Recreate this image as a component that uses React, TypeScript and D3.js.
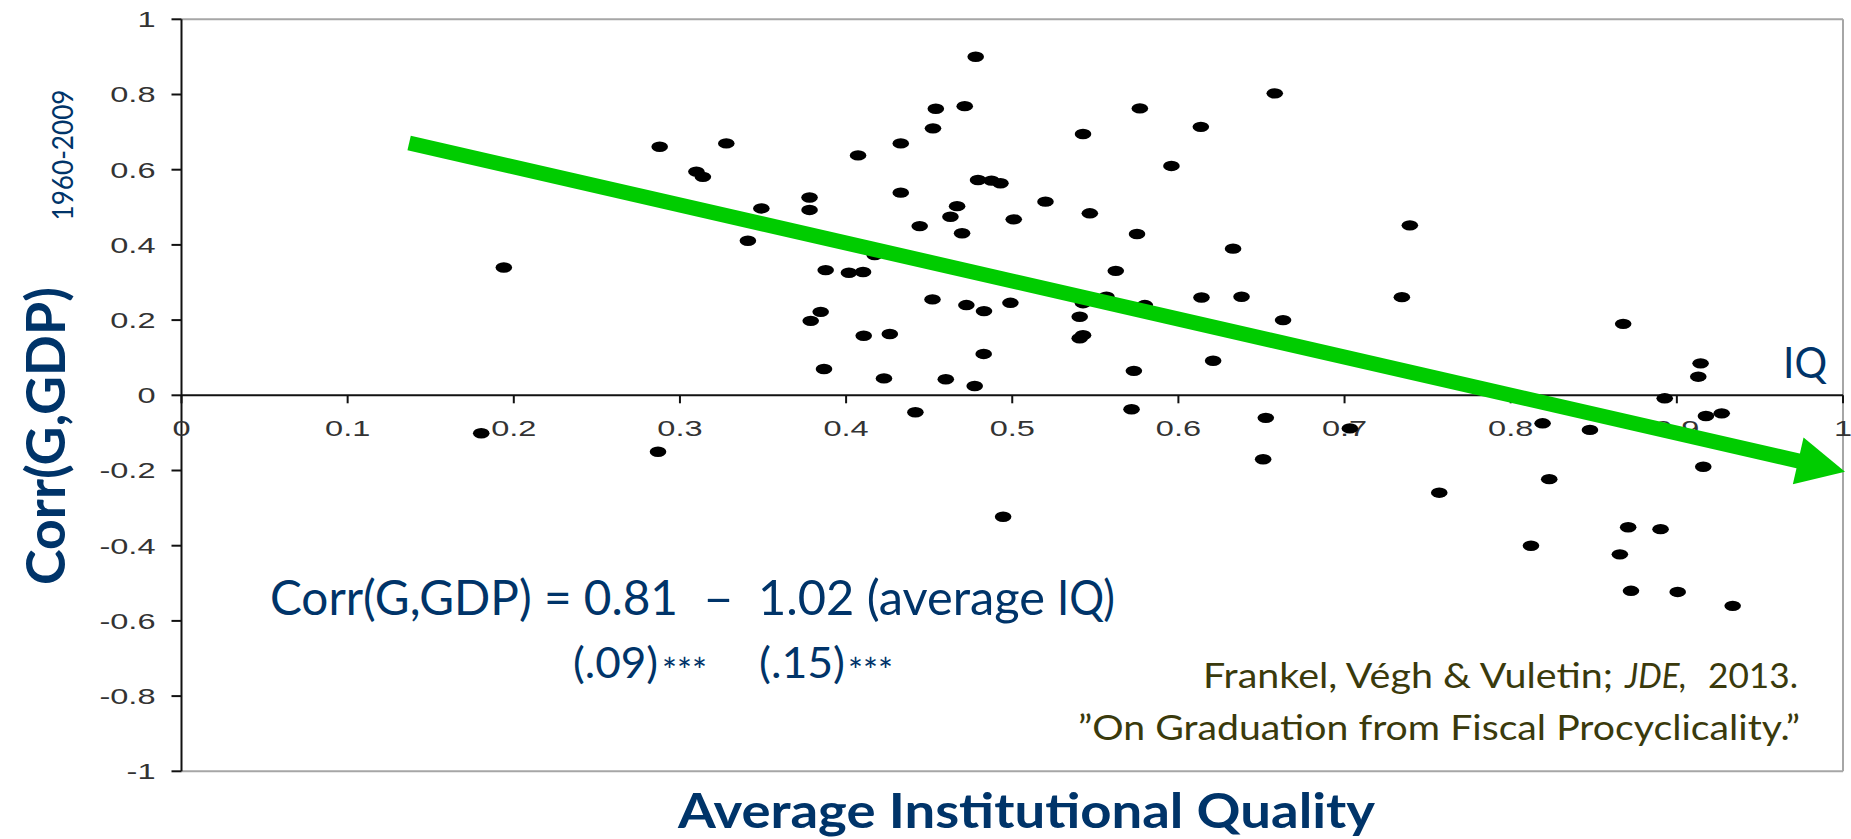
import React from "react";
import * as d3 from "d3";

// Average institutional quality (x) and Corr(G,GDP) (y), one per country
const IQ_VALUES = [
  0.1804, 0.194, 0.2868, 0.2878, 0.3099, 0.3138, 0.3279, 0.3409, 0.349, 0.378,
  0.378, 0.3787, 0.3847, 0.3877, 0.3867, 0.4017, 0.4102, 0.4072, 0.4172, 0.4106,
  0.4263, 0.4228, 0.4329, 0.4329, 0.4443, 0.4417, 0.4523, 0.454, 0.452, 0.46,
  0.4628, 0.4668, 0.4698, 0.4714, 0.4724, 0.478, 0.4794, 0.4774, 0.483, 0.4828,
  0.4875, 0.4929, 0.4945, 0.4989, 0.5009, 0.52, 0.5426, 0.5406, 0.5426, 0.5406,
  0.5467, 0.5426, 0.5567, 0.5623, 0.5732, 0.5751, 0.5718, 0.5768, 0.5798, 0.5958,
  0.6135, 0.6139, 0.6209, 0.6329, 0.638, 0.658, 0.663, 0.6526, 0.651, 0.7032,
  0.7345, 0.7393, 0.757, 0.8122, 0.8192, 0.8232, 0.8477, 0.8657, 0.8677, 0.8707,
  0.8724, 0.8902, 0.8927, 0.9005, 0.9143, 0.9129, 0.9175, 0.927, 0.9159, 0.9336,
];
const CORR_VALUES = [
  -0.101, 0.34, -0.15, 0.661, 0.595, 0.581, 0.67, 0.411, 0.497, 0.526,
  0.493, 0.198, 0.222, 0.333, 0.07, 0.326, 0.328, 0.638, 0.373, 0.1585,
  0.163, 0.045, 0.67, 0.539, 0.45, -0.045, 0.71, 0.762, 0.255, 0.0426,
  0.475, 0.503, 0.431, 0.769, 0.24, 0.9005, 0.5726, 0.0247, 0.224, 0.11,
  0.571, 0.564, -0.323, 0.246, 0.468, 0.515, 0.695, 0.209, 0.16, 0.1516,
  0.484, 0.245, 0.262, 0.331, 0.065, 0.429, -0.037, 0.763, 0.24, 0.61,
  0.714, 0.26, 0.092, 0.39, 0.262, 0.803, 0.2, -0.06, -0.17, -0.088,
  0.261, 0.452, -0.259, -0.4, -0.0745, -0.223, -0.092, -0.423, 0.19, -0.351,
  -0.52, -0.356, -0.008, -0.523, 0.085, 0.0495, -0.055, -0.048, -0.19, -0.56,
];

const X_TICKS = [0, 0.1, 0.2, 0.3, 0.4, 0.5, 0.6, 0.7, 0.8, 0.9, 1];
const X_TICK_LABELS = ["0", "0.1", "0.2", "0.3", "0.4", "0.5", "0.6", "0.7", "0.8", "0.9", "1"];
const Y_TICKS = [1, 0.8, 0.6, 0.4, 0.2, 0, -0.2, -0.4, -0.6, -0.8, -1];
const Y_TICK_LABELS = ["1", "0.8", "0.6", "0.4", "0.2", "0", "-0.2", "-0.4", "-0.6", "-0.8", "-1"];

// fitted trend arrow (data coordinates)
const TREND_START = [0.137, 0.671];
const TREND_END = [1.0, -0.203];

const BLUE = "#003469";
const OLIVE = "#3a3a0c";
const GREEN = "#00cc00";
const FONT = "Lato, 'Open Sans', sans-serif";
const AXIS_FONT = "'Liberation Sans', Arial, sans-serif";

export default function App() {
  const W = 1851;
  const H = 839;
  const x = d3.scaleLinear().domain([0, 1]).range([181.5, 1843]);
  const y = d3.scaleLinear().domain([-1, 1]).range([771.3, 19.3]);

  const x0 = x(0), x1 = x(1), yTop = y(1), yBot = y(-1), yZero = y(0);

  // arrow geometry
  const sx = x(TREND_START[0]), sy = y(TREND_START[1]);
  const tx = x(TREND_END[0]) + 2, ty = y(TREND_END[1]);
  const len = Math.hypot(tx - sx, ty - sy);
  const ux = (tx - sx) / len, uy = (ty - sy) / len;
  const nx = -uy, ny = ux;
  const headLen = 48, headHalf = 24;
  const bx = tx - headLen * ux, by = ty - headLen * uy;
  const headPts = [
    [tx, ty],
    [bx + headHalf * nx, by + headHalf * ny],
    [bx - headHalf * nx, by - headHalf * ny],
  ].map((p) => p.join(",")).join(" ");

  const sxScale = 1.48;

  return (
    <div style={{ position: "absolute", left: 0, top: 0, width: W, height: H, background: "#fff" }}>
      <svg width={W} height={H} style={{ display: "block" }}>
        <rect x={0} y={0} width={W} height={H} fill="#fff" />
        {/* frame */}
        <line x1={x0} x2={x1} y1={yTop} y2={yTop} stroke="#a6a6a6" strokeWidth={2} />
        <line x1={x1} x2={x1} y1={yTop} y2={yBot} stroke="#a6a6a6" strokeWidth={2} />
        <line x1={x0} x2={x1} y1={yBot} y2={yBot} stroke="#a6a6a6" strokeWidth={2} />
        {/* y axis */}
        <line x1={x0} x2={x0} y1={yTop} y2={yBot} stroke="#111" strokeWidth={2} />
        {Y_TICKS.map((t, i) => (
          <g key={"yt" + i}>
            <line x1={x0 - 10} x2={x0} y1={y(t)} y2={y(t)} stroke="#111" strokeWidth={2} />
            <text
              transform={`translate(${x0 - 26},${y(t) + 7.9}) scale(${sxScale},1)`}
              textAnchor="end"
              fontFamily={AXIS_FONT}
              fontSize={22}
              fill="#333"
            >
              {Y_TICK_LABELS[i]}
            </text>
          </g>
        ))}
        {/* x axis at zero */}
        <line x1={x0} x2={x1} y1={yZero} y2={yZero} stroke="#111" strokeWidth={2} />
        {X_TICKS.map((t, i) => (
          <g key={"xt" + i}>
            <line x1={x(t)} x2={x(t)} y1={yZero} y2={yZero + 8} stroke="#111" strokeWidth={2} />
            <text
              transform={`translate(${x(t)},${yZero + 40.7}) scale(${sxScale},1)`}
              textAnchor="middle"
              fontFamily={AXIS_FONT}
              fontSize={22}
              fill="#333"
            >
              {X_TICK_LABELS[i]}
            </text>
          </g>
        ))}
        {/* points */}
        {IQ_VALUES.map((v, i) => (
          <ellipse key={"p" + i} cx={x(v)} cy={y(CORR_VALUES[i])} rx={8.3} ry={5.2} fill="#000" />
        ))}
        {/* trend arrow */}
        <line x1={sx} y1={sy} x2={bx + ux * 2} y2={by + uy * 2} stroke={GREEN} strokeWidth={15} />
        <polygon points={headPts} fill={GREEN} />

        {/* IQ label */}
        <text x={1783} y={378} fontFamily={FONT} fontSize={42} fill={BLUE} textLength={44} lengthAdjust="spacingAndGlyphs">IQ</text>

        {/* y titles */}
        <text
          transform="translate(65,436) rotate(-90)"
          textAnchor="middle"
          fontFamily={FONT}
          fontWeight={700}
          fontSize={53}
          fill={BLUE}
          textLength={298}
          lengthAdjust="spacingAndGlyphs"
        >
          Corr(G,GDP)
        </text>
        <text
          transform="translate(73,155) rotate(-90)"
          textAnchor="middle"
          fontFamily={FONT}
          fontSize={29}
          fill={BLUE}
          textLength={131}
          lengthAdjust="spacingAndGlyphs"
        >
          1960-2009
        </text>

        {/* x title */}
        <text
          x={678}
          y={828}
          fontFamily={FONT}
          fontWeight={700}
          fontSize={47}
          fill={BLUE}
          textLength={697}
          lengthAdjust="spacingAndGlyphs"
        >
          Average Institutional Quality
        </text>

        {/* regression equation */}
        <g fontFamily={FONT} fill={BLUE}>
          <text x={270} y={615} fontSize={48} textLength={408} lengthAdjust="spacingAndGlyphs">Corr(G,GDP) = 0.81</text>
          <text x={703} y={615} fontSize={48} textLength={31} lengthAdjust="spacingAndGlyphs">–</text>
          <text x={758} y={615} fontSize={48} textLength={287} lengthAdjust="spacingAndGlyphs">1.02 (average</text>
          <text x={1057} y={615} fontSize={48} textLength={58} lengthAdjust="spacingAndGlyphs">IQ)</text>
          <text x={573} y={678} fontSize={43} textLength={85} lengthAdjust="spacingAndGlyphs">(.09)</text>
          <text x={662} y={683} fontSize={34} textLength={45} lengthAdjust="spacingAndGlyphs">***</text>
          <text x={759} y={678} fontSize={43} textLength={86} lengthAdjust="spacingAndGlyphs">(.15)</text>
          <text x={848} y={683} fontSize={34} textLength={45} lengthAdjust="spacingAndGlyphs">***</text>
        </g>

        {/* citation */}
        <g fontFamily={FONT} fill={OLIVE} fontSize={35}>
          <text x={1203} y={688} textLength={410} lengthAdjust="spacingAndGlyphs">Frankel, Végh &amp; Vuletin;</text>
          <text x={1625} y={688} fontStyle="italic" textLength={62} lengthAdjust="spacingAndGlyphs">JDE,</text>
          <text x={1708} y={688} textLength={90} lengthAdjust="spacingAndGlyphs">2013.</text>
          <text x={1078} y={740} textLength={722} lengthAdjust="spacingAndGlyphs">”On Graduation from Fiscal Procyclicality.”</text>
        </g>
      </svg>
    </div>
  );
}
